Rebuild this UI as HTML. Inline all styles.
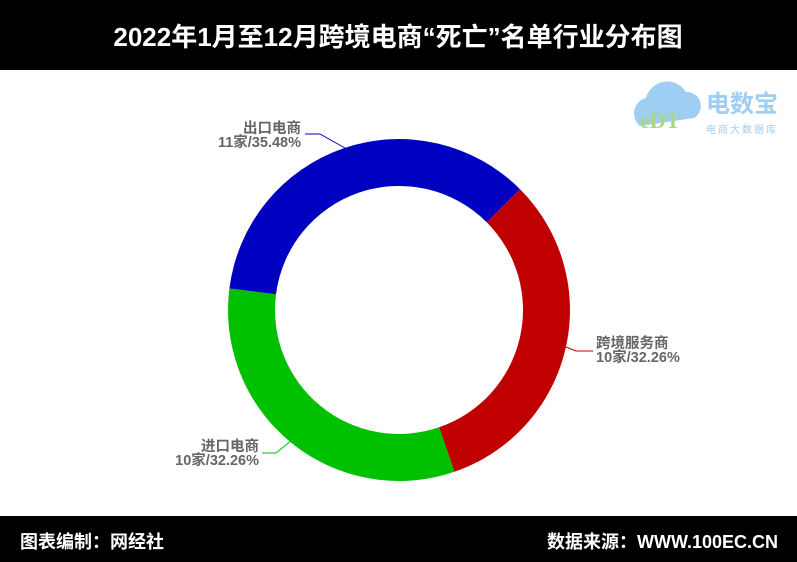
<!DOCTYPE html>
<html><head><meta charset="utf-8"><style>
body{margin:0;width:797px;height:562px;overflow:hidden;background:#fff;font-family:"Liberation Sans","Noto Sans CJK SC",sans-serif}
</style></head><body>
<svg width="797" height="562" xmlns="http://www.w3.org/2000/svg" style="display:block">
<rect x="0" y="0" width="797" height="70" fill="#000"/>
<text x="398" y="46" fill="#fff" font-size="26" font-weight="bold" text-anchor="middle" font-family="Liberation Sans,Noto Sans CJK SC,sans-serif">2022年1月至12月跨境电商“死亡”名单行业分布图</text>
<rect x="0" y="516" width="797" height="46" fill="#000"/>
<text x="20" y="548" fill="#fff" font-size="18" font-weight="bold" font-family="Liberation Sans,Noto Sans CJK SC,sans-serif">图表编制：网经社</text>
<text x="778" y="548" fill="#fff" font-size="18" font-weight="bold" text-anchor="end" font-family="Liberation Sans,Noto Sans CJK SC,sans-serif">数据来源：WWW.100EC.CN</text>
<path d="M519.9,189.1 A171,171 0 0 1 454.3,471.8 L439.1,427.3 A124,124 0 0 0 486.7,222.3 Z" fill="#c00000"/>
<path d="M454.3,471.8 A171,171 0 0 1 229.4,288.4 L276.0,294.3 A124,124 0 0 0 439.1,427.3 Z" fill="#00c000"/>
<path d="M229.4,288.4 A171,171 0 0 1 519.9,189.1 L486.7,222.3 A124,124 0 0 0 276.0,294.3 Z" fill="#0000c0"/>
<polyline points="305,134 320,134 345,148" fill="none" stroke="#0000c0" stroke-width="1"/>
<polyline points="566,347 576,351 593,351" fill="none" stroke="#c00000" stroke-width="1"/>
<polyline points="292,440 276,453 262,453" fill="none" stroke="#00c000" stroke-width="1"/>
<g font-size="14.5" font-weight="bold" fill="#666" font-family="Liberation Sans,Noto Sans CJK SC,sans-serif">
<text x="301" y="133" text-anchor="end">出口电商</text>
<text x="301" y="147" text-anchor="end">11家/35.48%</text>
<text x="596" y="348">跨境服务商</text>
<text x="596" y="362">10家/32.26%</text>
<text x="259" y="451" text-anchor="end">进口电商</text>
<text x="259" y="465" text-anchor="end">10家/32.26%</text>
</g>
<g opacity="0.85">
<path d="M640,126 a16,16 0 0 1 6,-28 a22,22 0 0 1 40,-6 a14,14 0 0 1 8,26 z" fill="#8ec6ef"/>
<text x="640" y="128" font-size="22" font-weight="bold" fill="#9cd06a" font-family="Liberation Serif,serif">eDT</text>
<text x="706" y="112" font-size="24" font-weight="bold" fill="#8ec6ef" font-family="Liberation Sans,Noto Sans CJK SC,sans-serif">电数宝</text>
<text x="706" y="133" font-size="10" fill="#8ec6ef" letter-spacing="2" font-family="Liberation Sans,Noto Sans CJK SC,sans-serif">电商大数据库</text>
</g>
</svg>
</body></html>
